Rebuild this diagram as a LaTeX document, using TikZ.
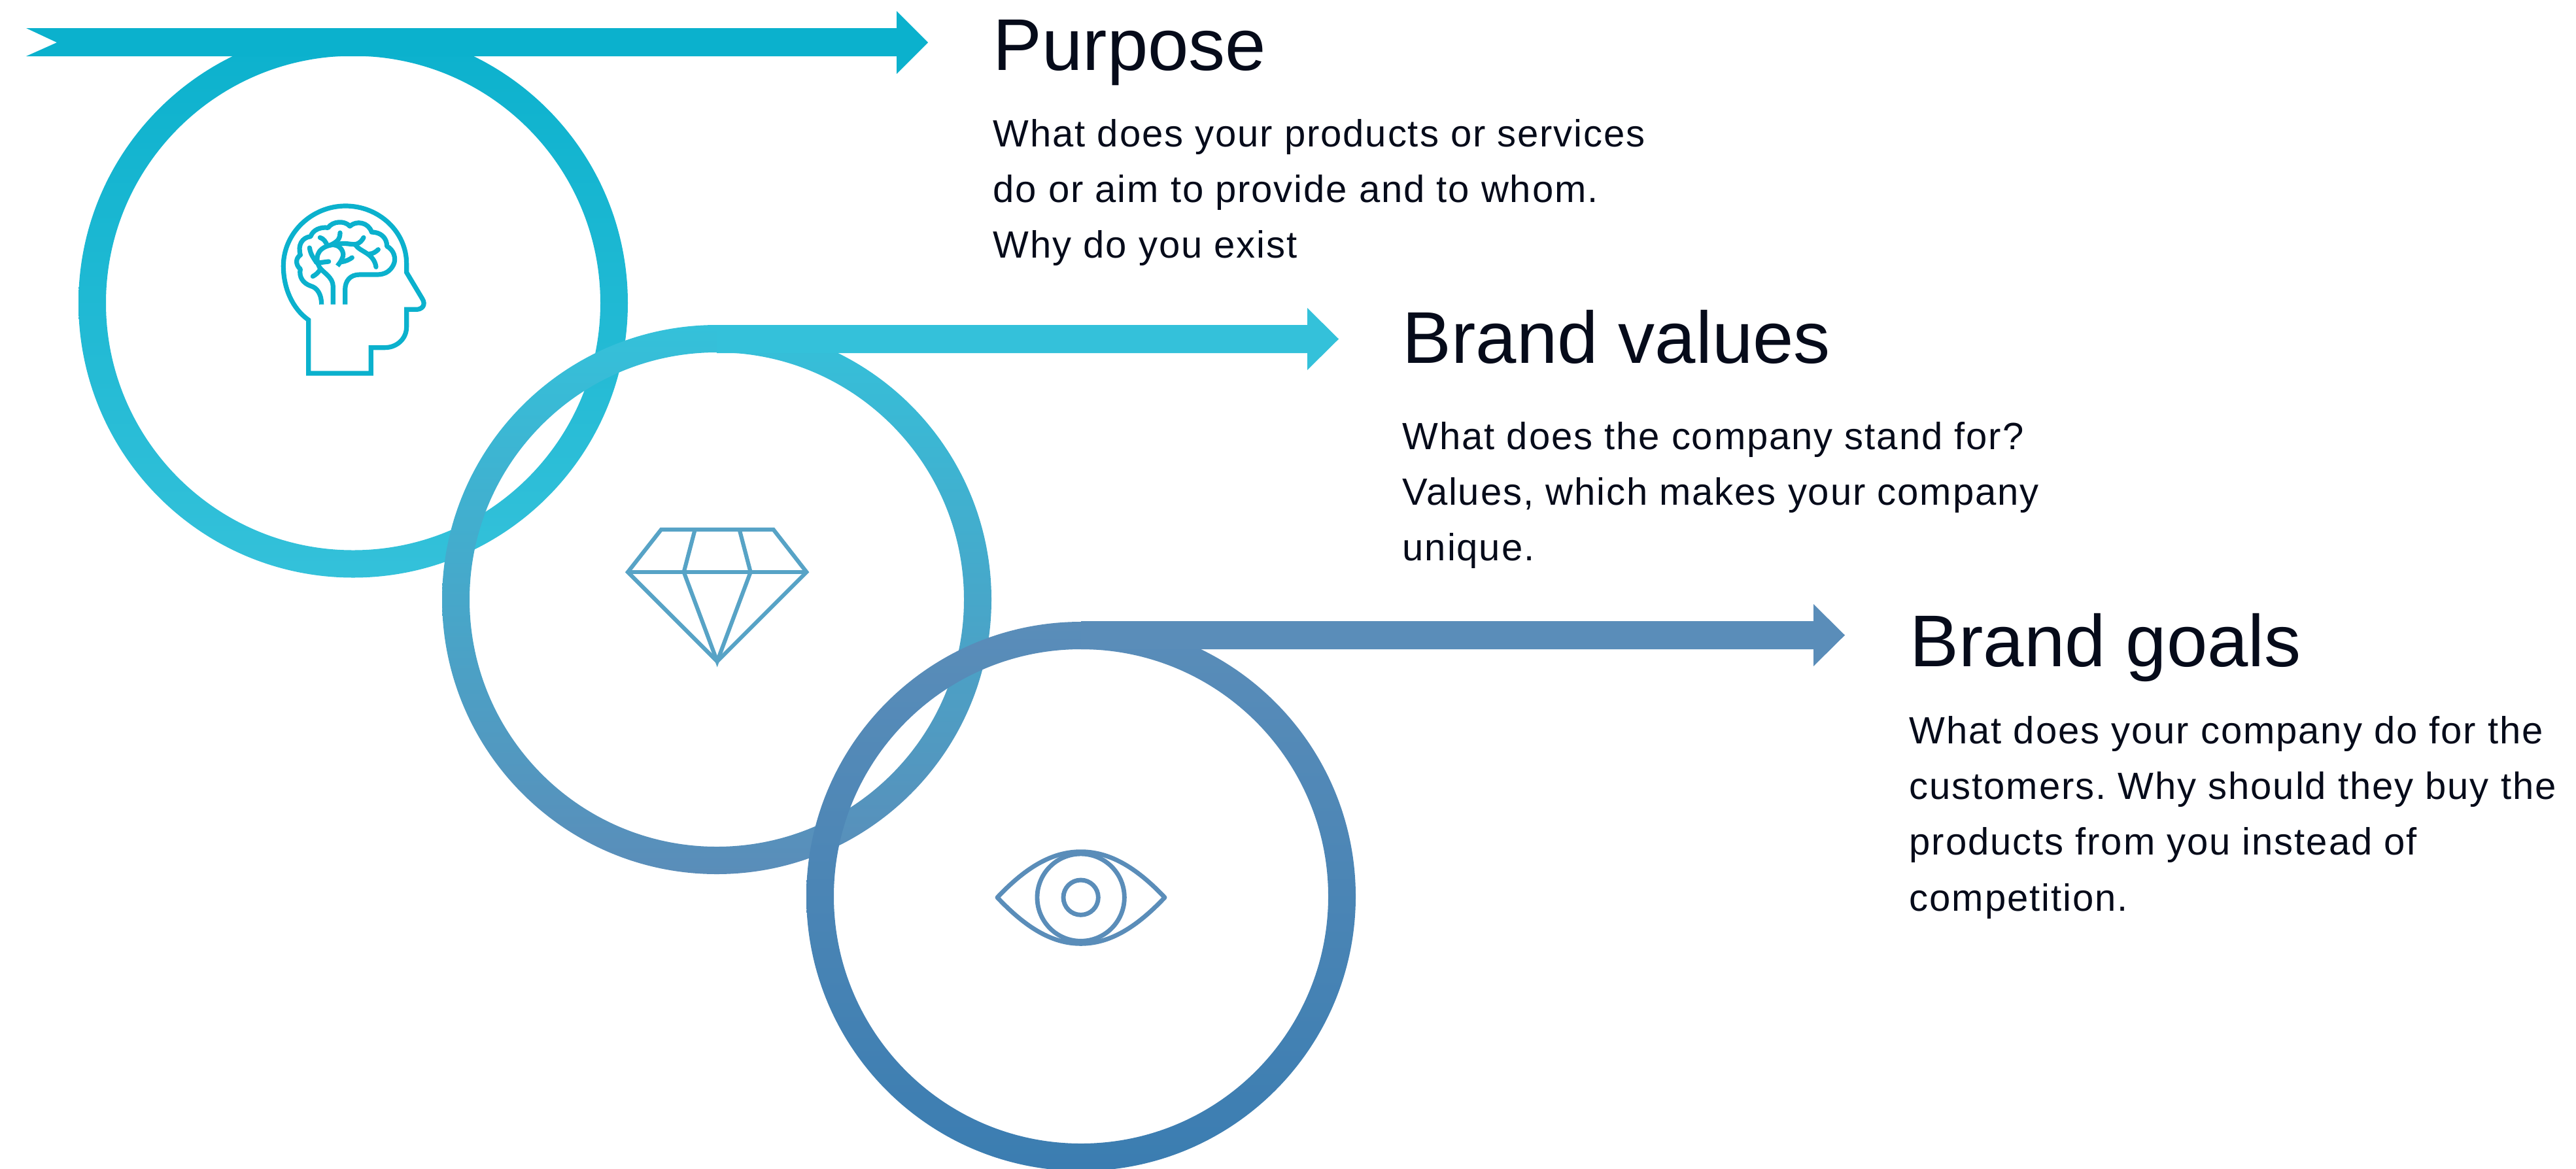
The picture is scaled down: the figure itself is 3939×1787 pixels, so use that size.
\documentclass[tikz,border=0pt]{standalone}
\usepackage{fontspec}
\setmainfont{Liberation Sans}
\newfontfamily\bodyfont[LetterSpace=3.3]{Liberation Sans}
\definecolor{inkcol}{HTML}{060B1A}
\definecolor{tealA}{HTML}{0BB1CD}
\definecolor{tealB}{HTML}{34C1DA}
\definecolor{blueA}{HTML}{5A8DB9}
\definecolor{blueB}{HTML}{3B7DB1}
\definecolor{gemcol}{HTML}{57A3C6}
\tikzset{
	headline/.style={anchor=base west,inner sep=0,text=inkcol,font=\fontsize{31.87}{36}\selectfont},
	bodytext/.style={anchor=north west,inner sep=0,align=left,text=inkcol,font=\bodyfont\frenchspacing\fontsize{16.5}{24.2}\selectfont},
	iconline/.style={line width=2.05pt,line cap=round,line join=round},
}
\begin{document}
\begin{tikzpicture}[x=0.01cm,y=-0.01cm]
	\useasboundingbox (0,0) rectangle (3939,1787);
	\coordinate (C1) at (540,463.5);
	\coordinate (C2) at (1096,917);
	\coordinate (C3) at (1653,1371);
	\shade [top color=tealA,bottom color=tealB,even odd rule] (C1) circle (420) (C1) circle (378);
	\fill [tealA] (40,43) to (1371,43) to (1371,17) to (1419,65) to (1371,113) to (1371,86) to (40,86) to (87,65) to cycle;
	\shade [top color=tealB,bottom color=blueA,even odd rule] (C2) circle (420) (C2) circle (378);
	\fill [tealB] (1096,497) to (1999,497) to (1999,471) to (2047,518.5) to (1999,566) to (1999,540) to (1096,540) to cycle;
	\shade [top color=blueA,bottom color=blueB,even odd rule] (C3) circle (420) (C3) circle (378);
	\fill [blueA] (1653,950) to (2773,950) to (2773,924) to (2821,971.5) to (2773,1019) to (2773,993) to (1653,993) to cycle;
	% head
	\begin{scope}[shift={(380,280)},scale=1/3,iconline,draw=tealA]
		\draw [line cap=butt,line join=miter] (275,873) -- (275,628) .. controls (200,575) and (160,480) .. (160,380) .. controls (160,230) and (290,105) .. (445,105) .. controls (600,105) and (725,225) .. (725,370) -- (725,410) -- (798,532) .. controls (815,560) and (795,580) .. (770,580) -- (725,580) -- (725,660) .. controls (725,715) and (680,755) .. (625,755) -- (562,755) -- (562,873) -- cycle;
		\draw [line cap=butt] (335,557) .. controls (335,510) and (315,480) .. (285,472) .. controls (250,460) and (230,430) .. (238,395) .. controls (215,375) and (215,345) .. (238,330) .. controls (225,285) and (245,250) .. (285,245) .. controls (295,215) and (330,200) .. (365,205) .. controls (385,175) and (440,170) .. (465,198) .. controls (495,170) and (550,180) .. (565,225) .. controls (605,225) and (635,250) .. (635,290) .. controls (665,305) and (680,345) .. (665,375) .. controls (650,405) and (625,420) .. (590,420) to (510,420) .. controls (465,420) and (443,450) .. (443,490) to (443,557);
		\draw [line cap=butt] (388,557) to (388,475) .. controls (388,430) and (340,410) .. (325,385) .. controls (305,350) and (310,300) .. (375,285) .. controls (420,275) and (445,320) .. (430,345) .. controls (425,360) and (415,370) .. (408,380);
		\draw (280,297) .. controls (285,330) and (300,345) .. (312,365);
		\draw (328,365) to (368,360);
		\draw (295,428) .. controls (310,420) and (320,410) .. (326,400);
		\draw (328,250) .. controls (345,255) and (355,270) .. (362,288);
		\draw (420,228) .. controls (420,260) and (405,270) .. (375,285);
		\draw (408,282) .. controls (440,270) and (470,285) .. (495,280) .. controls (510,275) and (520,265) .. (528,250);
		\draw (492,285) .. controls (510,315) and (575,320) .. (585,385);
		\draw (555,325) .. controls (570,325) and (585,315) .. (595,305);
		\draw (425,362) .. controls (445,360) and (465,350) .. (475,342);
	\end{scope}
	% gem
	\begin{scope}[shift={(900,760)},scale=1/3,line width=1.75pt,line join=miter,draw=gemcol]
		\draw (333,150) -- (848,150) -- (1000,345) -- (590,755) -- (180,345) -- cycle;
		\draw (180,345) -- (1000,345);
		\draw (488,150) -- (437,345) -- (590,755) -- (743,345) -- (692,150);
	\end{scope}
	% eye
	\begin{scope}[shift={(1460,1260)},scale=1/3,line width=1.95pt,draw=blueA]
		\draw [line join=round] (195,338) .. controls (330,195) and (450,128) .. (578,128) .. controls (706,128) and (828,195) .. (963,338) .. controls (828,481) and (706,550) .. (578,550) .. controls (450,550) and (330,481) .. (195,338) -- cycle;
		\draw (578,338) circle (200);
		\draw (578,338) circle (80);
	\end{scope}
	% texts
	\node [headline] (purposehead) at (1518,107) {Purpose};
	\node [bodytext] (purposetext) at (1518,182) {What does your products or services\\do or aim to provide and to whom.\\Why do you exist};
	\node [headline] (valueshead) at (2144,555) {Brand values};
	\node [bodytext] (valuestext) at (2144,645) {What does the company stand for?\\Values, which makes your company\\unique.};
	\node [headline] (goalshead) at (2920,1019) {Brand goals};
	\node [bodytext] (goalstext) at (2919,1095) {What does your company do for the\\customers. Why should they buy the\\products from you instead of\\competition.};
\end{tikzpicture}
\end{document}
